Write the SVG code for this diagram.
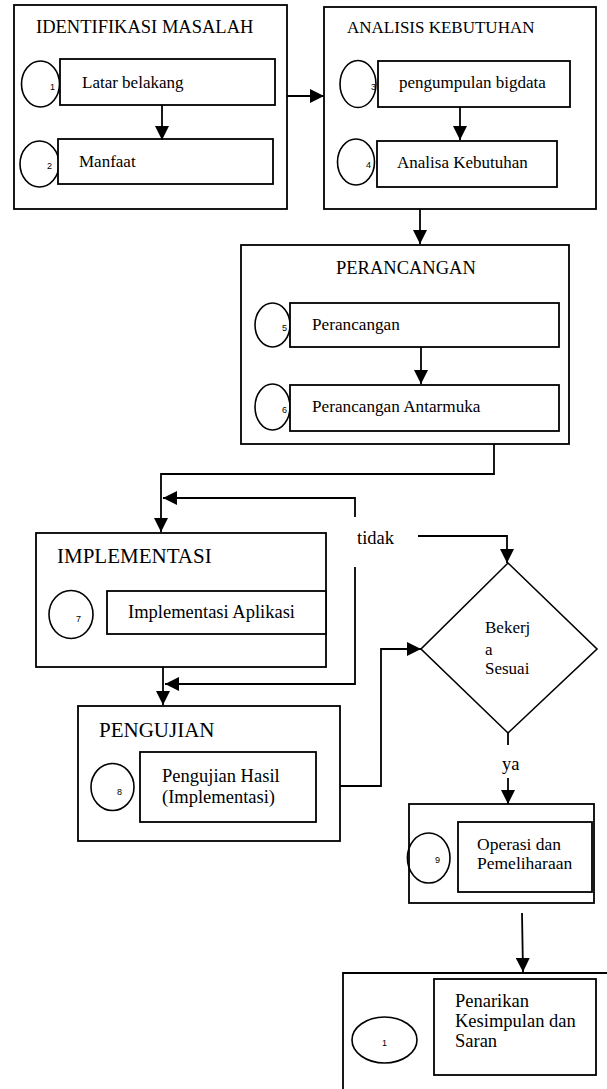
<svg xmlns="http://www.w3.org/2000/svg" width="607" height="1089" viewBox="0 0 607 1089">
<style>
.b{fill:#fff;stroke:#000;stroke-width:1.8}
.c{fill:none;stroke:#000;stroke-width:1.6}
.l{fill:none;stroke:#000;stroke-width:1.8}
text{font-family:"Liberation Serif","Times New Roman",serif;fill:#000}
.n{font-family:"Liberation Sans",Arial,sans-serif;font-size:9px}
</style>
<defs>
<marker id="ah" markerUnits="userSpaceOnUse" markerWidth="14" markerHeight="14" refX="14" refY="7" orient="auto">
<path d="M0,0 L14,7 L0,14 z" fill="#000"/>
</marker>
</defs>
<rect width="607" height="1089" fill="#fff"/>

<g id="identifikasi">
<rect class="b" x="14" y="5" width="273" height="204"/>
<text x="36" y="33" font-size="18.5">IDENTIFIKASI MASALAH</text>
<ellipse class="c" cx="40.5" cy="84" rx="19" ry="23"/>
<text class="n" x="50" y="90">1</text>
<rect class="b" x="60" y="59" width="215" height="46"/>
<text x="82" y="88" font-size="17">Latar belakang</text>
<ellipse class="c" cx="39.5" cy="164" rx="19.5" ry="23"/>
<text class="n" x="47" y="169">2</text>
<rect class="b" x="58" y="139" width="215" height="45"/>
<text x="79" y="167" font-size="17">Manfaat</text>
</g>

<g id="analisis">
<rect class="b" x="324" y="7" width="272" height="202"/>
<text x="347" y="33" font-size="17">ANALISIS KEBUTUHAN</text>
<ellipse class="c" cx="358" cy="84" rx="18" ry="23.5"/>
<text class="n" x="371" y="90">3</text>
<rect class="b" x="378" y="61" width="192" height="46"/>
<text x="399" y="88" font-size="17">pengumpulan bigdata</text>
<ellipse class="c" cx="356" cy="162" rx="18.5" ry="23"/>
<text class="n" x="366" y="168">4</text>
<rect class="b" x="377" y="141" width="180" height="46"/>
<text x="397" y="168" font-size="17">Analisa Kebutuhan</text>
</g>

<g id="perancangan">
<rect class="b" x="241" y="245" width="328" height="199"/>
<text x="336" y="274" font-size="18.5">PERANCANGAN</text>
<ellipse class="c" cx="272.5" cy="325" rx="17.5" ry="22"/>
<text class="n" x="282" y="331">5</text>
<rect class="b" x="290" y="303" width="269" height="44"/>
<text x="312" y="330" font-size="17.2">Perancangan</text>
<ellipse class="c" cx="272.5" cy="407" rx="17.5" ry="23"/>
<text class="n" x="282" y="413">6</text>
<rect class="b" x="290" y="385" width="269" height="46"/>
<text x="312" y="412" font-size="17.2">Perancangan Antarmuka</text>
</g>

<g id="implementasi">
<rect class="b" x="36" y="533" width="290" height="134"/>
<text x="57" y="563" font-size="21">IMPLEMENTASI</text>
<ellipse class="c" cx="71" cy="614.5" rx="22" ry="24"/>
<text class="n" x="76" y="622">7</text>
<rect class="b" x="107" y="591" width="219" height="43"/>
<text x="128" y="618" font-size="18.5">Implementasi Aplikasi</text>
</g>

<g id="pengujian">
<rect class="b" x="78" y="706" width="262" height="135"/>
<text x="99" y="737" font-size="21">PENGUJIAN</text>
<ellipse class="c" cx="112.5" cy="787" rx="21.5" ry="23.5"/>
<text class="n" x="117" y="795">8</text>
<rect class="b" x="140" y="752" width="176" height="70"/>
<text x="162" y="782" font-size="18.5">Pengujian Hasil</text>
<text x="162" y="803" font-size="18.5">(Implementasi)</text>
</g>

<g id="keputusan">
<polygon class="c" points="508,563 597,649 508,733 421,649"/>
<text x="485" y="633" font-size="17">Bekerj</text>
<text x="485" y="655" font-size="17">a</text>
<text x="485" y="674" font-size="17">Sesuai</text>
</g>

<g id="operasi">
<rect class="b" x="409" y="804" width="185" height="99"/>
<ellipse class="c" cx="428.7" cy="858" rx="21.3" ry="25"/>
<text class="n" x="435" y="863">9</text>
<rect class="b" x="458" y="822" width="134" height="70"/>
<text x="477" y="850" font-size="17.5">Operasi dan</text>
<text x="477" y="869" font-size="17.5">Pemeliharaan</text>
</g>

<g id="penarikan">
<path class="l" d="M610,973 H343 V1092"/>
<ellipse class="c" cx="384.5" cy="1040" rx="32.5" ry="23"/>
<text class="n" x="382" y="1046">1</text>
<rect class="b" x="434" y="979" width="162" height="96"/>
<text x="455" y="1007" font-size="18.5">Penarikan</text>
<text x="455" y="1027" font-size="18.5">Kesimpulan dan</text>
<text x="455" y="1047" font-size="18.5">Saran</text>
</g>

<g id="connectors">
<path class="l" d="M162,105 V140" marker-end="url(#ah)"/>
<path class="l" d="M460,107 V140" marker-end="url(#ah)"/>
<path class="l" d="M287,96 H324" marker-end="url(#ah)"/>
<path class="l" d="M420,209 V244" marker-end="url(#ah)"/>
<path class="l" d="M421,347 V384" marker-end="url(#ah)"/>
<path class="l" d="M494,444 V474 H161 V532" marker-end="url(#ah)"/>
<path class="l" d="M355,517 V498 H163" marker-end="url(#ah)"/>
<path class="l" d="M355,567 V684 H165" marker-end="url(#ah)"/>
<path class="l" d="M163,667 V705" marker-end="url(#ah)"/>
<path class="l" d="M418,536 H507 V563" marker-end="url(#ah)"/>
<text x="357" y="544" font-size="18.5">tidak</text>
<path class="l" d="M340,786 H381 V649 H421" marker-end="url(#ah)"/>
<path class="l" d="M508,733 V745"/>
<text x="502" y="770" font-size="18.5">ya</text>
<path class="l" d="M508,778 V804" marker-end="url(#ah)"/>
<path class="l" d="M522,913 L523,972" marker-end="url(#ah)"/>
</g>
</svg>
